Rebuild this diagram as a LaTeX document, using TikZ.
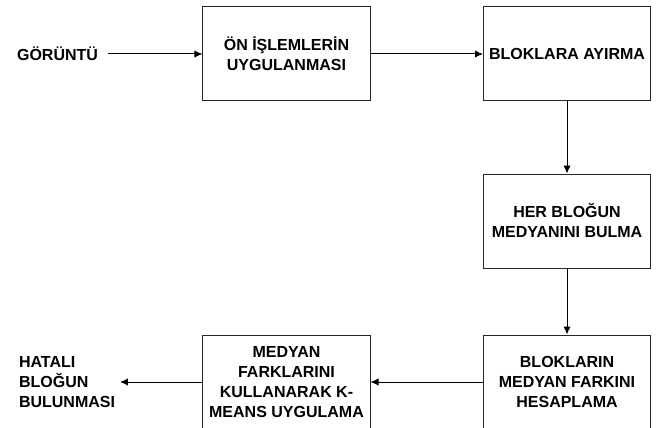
\documentclass[tikz,border=0pt]{standalone}
\usepackage{fontspec}
\setmainfont{Liberation Sans}
\usetikzlibrary{arrows,arrows.meta}
\tikzstyle{block} = [align=center,draw=black!85,rectangle,text centered,minimum width=125.25pt,minimum height=70.5pt,inner sep=2pt]
\tikzstyle{data} = [align=center,text centered]

\begin{document}
\begin{tikzpicture}[node distance=210.4pt,font=\fontsize{12}{15}\selectfont\bfseries,>={Latex[length=6pt,width=5.5pt]},line width=0.75pt]
				\useasboundingbox (-214.875pt,-280.5pt) rectangle (277.875pt,40.5pt);
				\node (pre) [block] {ÖN İŞLEMLERİN\\UYGULANMASI};
				\node (img) [data,left of=pre,node distance=171.75pt] {GÖRÜNTÜ};
				\node (split) [block,right of=pre] {BLOKLARA AYIRMA};
				\node (med) [block,below of=split,node distance=125.25pt] {HER BLOĞUN\\MEDYANINI BULMA};
				\node (diff) [block,below of=med,node distance=120.75pt] {BLOKLARIN\\MEDYAN FARKINI\\HESAPLAMA};
				\node (kmeans) [block,left of=diff] {MEDYAN\\FARKLARINI\\KULLANARAK K-\\MEANS UYGULAMA};
				\node (res) [data,align=left,left of=kmeans,node distance=164.6pt] {HATALI\\BLOĞUN\\BULUNMASI};
				\draw [->,shorten <=4pt] (img) -- (pre);
				\draw [->] (pre) -- (split);
				\draw [->] (split) -- (med);
				\draw [->] (med) -- (diff);
				\draw [->] (diff) -- (kmeans);
				\draw [->] (kmeans) -- (res);
			\end{tikzpicture}
\end{document}
